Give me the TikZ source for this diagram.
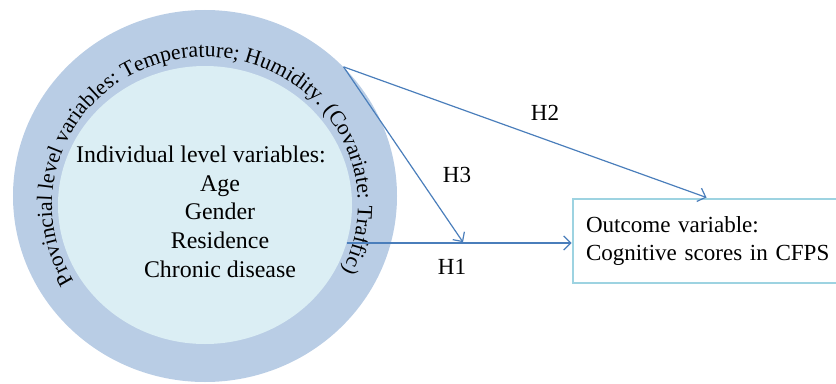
\documentclass[tikz,border=0pt]{standalone}
\usepackage{fontspec}
\setmainfont{Liberation Serif}
\usetikzlibrary{shapes.geometric, arrows.meta, positioning, decorations.text}
\definecolor{ringblue}{HTML}{B9CDE5}
\definecolor{coreblue}{HTML}{DBEEF4}
\definecolor{linkblue}{HTML}{4A7EBB}
\definecolor{boxcyan}{HTML}{9DD3E1}
\newcommand{\ringfont}{\fontsize{15.5}{18}\selectfont}

\begin{document}
\begin{tikzpicture}

	% --- STYLES ---
	\tikzstyle{ring} = [ellipse, fill=ringblue, inner sep=0pt, minimum width=9.6cm, minimum height=9.3cm]
	\tikzstyle{core} = [ellipse, fill=coreblue, inner sep=0pt, minimum width=7.35cm, minimum height=6.95cm]
	\tikzstyle{listtext} = [align=center, inner sep=0pt, font=\fontsize{17}{20.6}\selectfont]
	\tikzstyle{outcomebox} = [rectangle, draw=boxcyan, line width=2.1pt, minimum width=7.175cm, minimum height=2.1cm, text width=6.525cm, inner xsep=0.325cm, align=left, font=\fontsize{16.4}{19.9}\selectfont]
	\tikzstyle{hlabel} = [font=\fontsize{16.4}{19.7}\selectfont]
	\tikzstyle{arrow} = [draw=linkblue, line width=0.85pt, -{Straight Barb[length=5pt,width=10pt]}]

	\useasboundingbox (0,0) rectangle (20.9,9.575);
	\clip (0,0) rectangle (20.9,9.575);

	% --- NODES ---

	% 1. Provincial ring and individual core
	\node (outer) [ring] at (5.125,4.675) {};
	\node (inner) [core] at (5.125,4.45) {};

	% text round the ring
	\path [decorate, decoration={text along path, text align=fit to path,
		text={|\ringfont|Provincial level variables: Temperature; Humidity. (Covariate: Traffic)}}]
		(inner.center) ++(211:3.825 and 3.7) arc[start angle=211, end angle=-25, x radius=3.825cm, y radius=3.7cm];

	\node (indiv) [listtext] at (5.5,4.28) {
		Individual level variables:\hspace*{0.95cm}\\
		Age\\
		Gender\\
		Residence\\
		Chronic disease
	};

	% 2. Outcome
	\node (outcome) [outcomebox] at (17.9125,3.55) {
		Outcome variable:\\
		Cognitive scores in CFPS
	};

	\coordinate (h3tip) at (11.575,3.52);

	% --- ARROWS ---
	\draw [arrow] (inner.-15) -- (inner.-15 -| outcome.west);
	\draw [arrow] (outer.43) -- ([xshift=3.375cm]outcome.north west);
	\draw [arrow] (outer.43) -- (h3tip);

	% --- LABELS ---
	\node (h1) [hlabel] at (11.3,2.9) {H1};
	\node (h2) [hlabel] at (13.625,6.75) {H2};
	\node (h3) [hlabel] at (11.425,5.2) {H3};

\end{tikzpicture}
\end{document}
